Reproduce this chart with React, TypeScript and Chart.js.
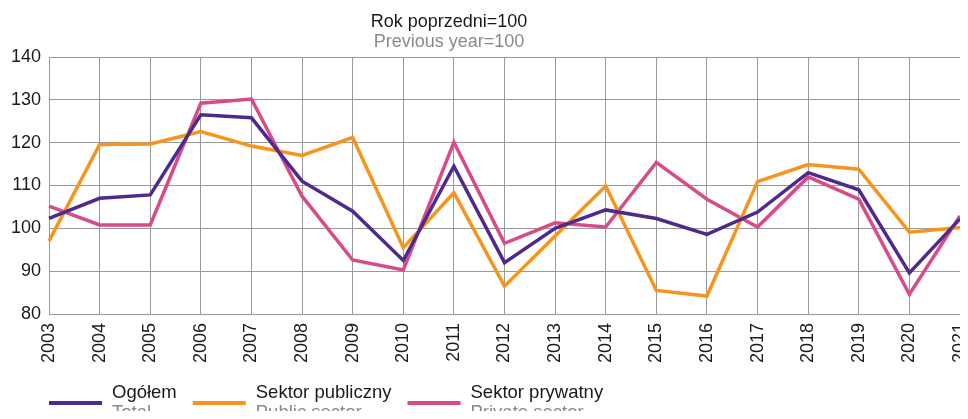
import React, { useEffect, useRef } from "react";
import { Chart, registerables } from "chart.js";

Chart.register(...registerables);

const years = ["2003","2004","2005","2006","2007","2008","2009","2010","2011","2012","2013","2014","2015","2016","2017","2018","2019","2020","2021"];
const ogolem = [102.3, 107.0, 107.8, 126.5, 125.8, 111.0, 104.0, 92.5, 114.5, 92.0, 100.0, 104.3, 102.3, 98.6, 103.8, 113.0, 109.0, 89.6, 102.2];
const publiczny = [97.0, 119.6, 119.7, 122.6, 119.2, 117.0, 121.2, 95.5, 108.3, 86.5, 98.2, 109.9, 85.5, 84.2, 110.9, 114.9, 113.8, 99.1, 100.2];
const prywatny = [105.2, 100.8, 100.8, 129.2, 130.2, 107.5, 92.6, 90.3, 120.1, 96.5, 101.3, 100.3, 115.4, 106.8, 100.3, 112.0, 106.8, 84.6, 102.9];

const titlePl = "Rok poprzedni=100";
const titleEn = "Previous year=100";
const legendPl = ["Ogółem", "Sektor publiczny", "Sektor prywatny"];
const legendEn = ["Total", "Public sector", "Private sector"];
const colors = ["#4E2A8E", "#F7941D", "#D84B88"];

const FONT = "'Liberation Sans', Arial, sans-serif";

const customPlugin = {
  id: "customTexts",
  afterDraw(chart: any) {
    const ctx = chart.ctx as CanvasRenderingContext2D;
    ctx.save();
    ctx.textAlign = "center";
    ctx.textBaseline = "alphabetic";
    ctx.font = `18px ${FONT}`;
    ctx.fillStyle = "#1a1a1a";
    ctx.fillText(titlePl, 449, 27);
    ctx.fillStyle = "#8a8a8a";
    ctx.fillText(titleEn, 449, 47);
    let x = chart.chartArea.left;
    ctx.textAlign = "left";
    for (let i = 0; i < legendPl.length; i++) {
      ctx.strokeStyle = colors[i];
      ctx.lineWidth = 4;
      ctx.beginPath();
      ctx.moveTo(x, 403);
      ctx.lineTo(x + 53, 403);
      ctx.stroke();
      const tx = x + 63;
      ctx.font = `18.5px ${FONT}`;
      ctx.fillStyle = "#1a1a1a";
      ctx.fillText(legendPl[i], tx, 398);
      ctx.fillStyle = "#8a8a8a";
      ctx.fillText(legendEn[i], tx, 418);
      const w = Math.max(ctx.measureText(legendPl[i]).width, ctx.measureText(legendEn[i]).width);
      x = tx + w + 16;
    }
    ctx.restore();
  },
};

export default function App() {
  const ref = useRef<HTMLCanvasElement | null>(null);
  useEffect(() => {
    if (!ref.current) return;
    const chart = new Chart(ref.current, {
      type: "line",
      data: {
        labels: years,
        datasets: [
          { label: legendPl[0], data: ogolem, borderColor: colors[0], backgroundColor: colors[0], borderWidth: 3.5, pointRadius: 0, tension: 0 },
          { label: legendPl[1], data: publiczny, borderColor: colors[1], backgroundColor: colors[1], borderWidth: 3.5, pointRadius: 0, tension: 0 },
          { label: legendPl[2], data: prywatny, borderColor: colors[2], backgroundColor: colors[2], borderWidth: 3.5, pointRadius: 0, tension: 0 },
        ],
      },
      options: {
        responsive: false,
        animation: false,
        layout: { padding: { top: 57, left: 8, right: 8, bottom: 45 } },
        plugins: { legend: { display: false }, title: { display: false }, tooltip: { enabled: false } },
        scales: {
          x: {
            offset: false,
            grid: { color: "#9a9a9a", drawTicks: false, lineWidth: 1 },
            border: { color: "#9a9a9a" },
            ticks: { color: "#1a1a1a", font: { size: 18, family: FONT }, maxRotation: 90, minRotation: 90, padding: 9, autoSkip: false },
            afterFit(scale: any) {
              scale.height = 60;
              scale.paddingLeft = 0;
              scale.paddingRight = 0;
            },
          },
          y: {
            min: 80,
            max: 140,
            grid: { color: "#9a9a9a", drawTicks: false, lineWidth: 1 },
            border: { color: "#9a9a9a" },
            ticks: { stepSize: 10, color: "#1a1a1a", font: { size: 18, family: FONT }, padding: 8 },
            afterFit(scale: any) {
              scale.width = 41;
              scale.paddingTop = 0;
              scale.paddingBottom = 0;
            },
          },
        },
      },
      plugins: [customPlugin],
    });
    return () => chart.destroy();
  }, []);
  return (
    <div style={{ margin: "-8px", width: 968, height: 419, overflow: "hidden" }}>
      <canvas ref={ref} width={968} height={419} style={{ display: "block" }} />
    </div>
  );
}
